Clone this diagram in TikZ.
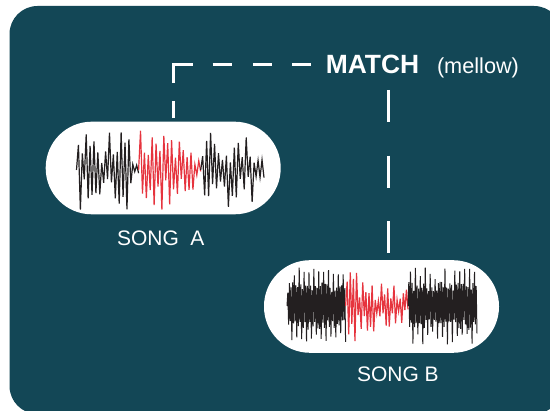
\documentclass[tikz,border=0pt]{standalone}
\usepackage{fontspec}
\setmainfont{Liberation Sans}
\definecolor{bgteal}{RGB}{19,71,86}
\definecolor{wavered}{RGB}{230,52,62}
\definecolor{waveblack}{RGB}{35,31,32}
\begin{document}
\begin{tikzpicture}[
    x=1pt, y=-1pt,
    mypill/.style={fill=white, rounded corners=46pt, minimum width=235pt, minimum height=92.6pt, inner sep=0pt},
    mydash/.style={draw=white, line width=3pt},
    mywave/.style={line width=1.2pt, line join=miter},
    mylabel/.style={text=white, anchor=base west, inner sep=0pt, font=\fontsize{21}{24}\selectfont}
]
    \pgfmathsetseed{4217}
    \useasboundingbox (0,0) rectangle (550,411);
    \fill[white] (0,0) rectangle (550,411);
    \fill[bgteal, rounded corners=28pt] (9.5,6) rectangle (562,414);

    % song pills
    \node[mypill] (songA) at (163.2,168) {};
    \node[mypill] (songB) at (381.5,306.5) {};

    % waveform of song A
    \draw[mywave, waveblack] (76.5,170)
        \foreach \i in {1,...,32} { -- ({76.5+\i*62.1/32}, {170 + (-1)^\i*40*(0.12+0.88*rnd)*(1-0.75*(\i>28))}) };
    \draw[mywave, wavered] (138.6,170)
        \foreach \i in {1,...,32} { -- ({138.6+\i*62.1/32}, {170 + (-1)^\i*40*(0.12+0.88*rnd)*(1-0.75*(\i>29))}) };
    \draw[mywave, waveblack] (200.7,170)
        \foreach \i in {1,...,32} { -- ({200.7+\i*63.3/32}, {170 + (-1)^\i*40*(0.12+0.88*rnd)*(1-0.7*(\i>27))}) };

    % waveform of song B
    \draw[mywave, line width=1pt, waveblack] (287,306)
        \foreach \i in {1,...,72} { -- ({287+\i*58.6/72}, {306 + (-1)^\i*(24*(0.55+0.45*rnd) + (mod(\i,3)==0)*(8+10*rnd))}) };
    \draw[mywave, wavered] (345.6,306)
        \foreach \i in {1,...,40} { -- ({345.6+\i*62.4/40}, {306 + (-1)^\i*40*(0.15+0.85*rnd)*(1-0.6*\i/40)}) };
    \draw[mywave, line width=1pt, waveblack] (408,306)
        \foreach \i in {1,...,84} { -- ({408+\i*69/84}, {306 + (-1)^\i*(24*(0.55+0.45*rnd) + (mod(\i,3)==0)*(8+10*rnd))}) };

    % labels
    \node[mylabel, font=\fontsize{26.4}{30}\selectfont\bfseries] (match) at (325.6,74) {MATCH};
    \node[mylabel, font=\fontsize{21.7}{25}\selectfont] (mellow) at (436.8,74) {(mellow)};
    \node[mylabel] (labelA) at (116.8,246) {SONG\ \ A};
    \node[mylabel] (labelB) at (356.8,381.7) {SONG B};

    % dashed links
    \coordinate (matchtip) at (310.5,64.3);
    \coordinate (matchfoot) at (388.4,90);
    \draw[mydash, dash pattern=on 16.6pt off 18.4pt on 37.6pt off 20pt on 19.3pt off 21pt on 19.4pt off 20pt on 18.5pt off 3.4pt, dash phase=190.8pt]
        ([xshift=10.5pt]songA.north) |- (matchtip);
    \draw[mydash, dash pattern=on 32pt off 33.7pt] (matchfoot) -- ([xshift=6.9pt]songB.north);
\end{tikzpicture}
\end{document}
